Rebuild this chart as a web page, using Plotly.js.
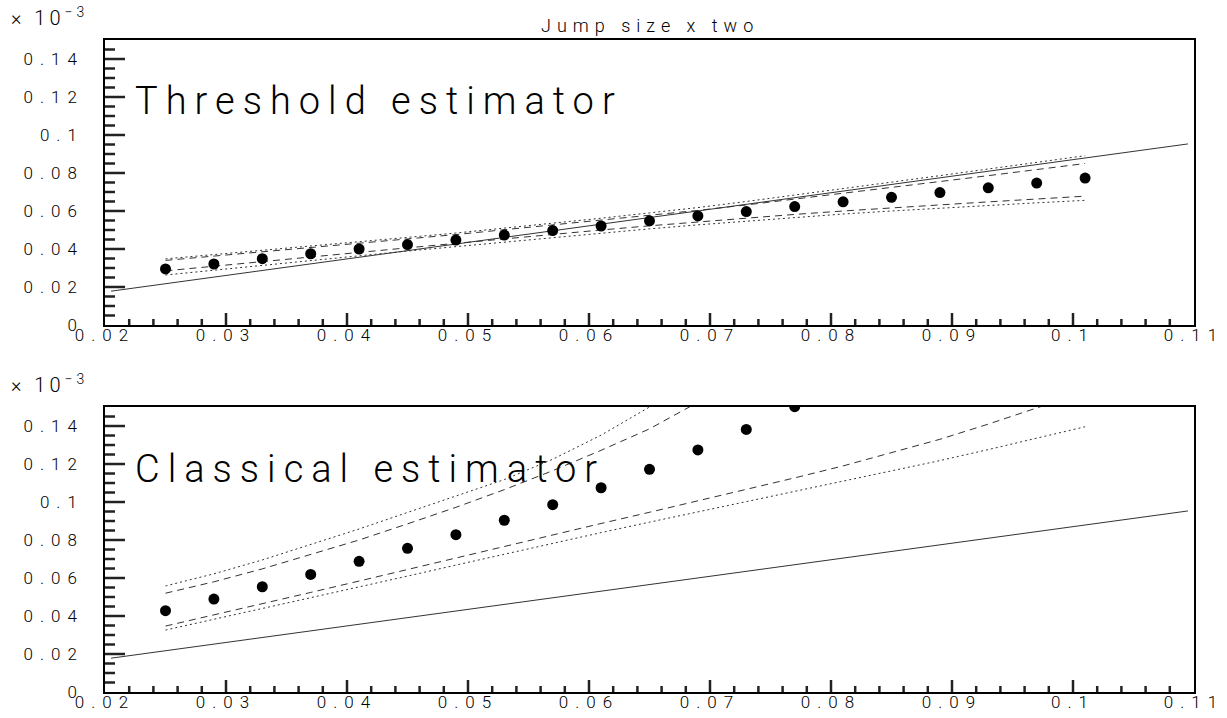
<!DOCTYPE html>
<html>
<head>
<meta charset="utf-8">
<script src="https://cdn.plot.ly/plotly-3.0.1.min.js"></script>
<style>
html,body{margin:0;padding:0;background:#fff;}
#chart{width:1227px;height:718px;}
.xtick text,.ytick text,.x2tick text,.y2tick text{letter-spacing:7px;}
</style>
</head>
<body>
<div id="chart"></div>
<script>
// ---- data (values in units of 10^-3) ----
const xPts = [0.025,0.029,0.033,0.037,0.041,0.045,0.049,0.053,0.057,0.061,0.065,0.069,0.073,0.077,0.081,0.085,0.089,0.093,0.097,0.101];

const trueX = [0.0205, 0.1095];
const trueY = [0.0178, 0.0953];

// Threshold estimator (top panel)
const topDots    = [0.0295,0.0321,0.0349,0.0375,0.0400,0.0423,0.0447,0.0473,0.0497,0.0521,0.0548,0.0574,0.0597,0.0623,0.0648,0.0672,0.0697,0.0722,0.0747,0.0773];
const topUpDot   = [0.0348,0.0370,0.0392,0.0415,0.0438,0.0461,0.0484,0.0509,0.0536,0.0562,0.0590,0.0618,0.0650,0.0683,0.0717,0.0752,0.0786,0.0821,0.0856,0.0891];
const topUpDash  = [0.0340,0.0362,0.0384,0.0407,0.0430,0.0453,0.0476,0.0501,0.0527,0.0553,0.0578,0.0603,0.0632,0.0662,0.0693,0.0725,0.0755,0.0786,0.0818,0.0850];
const topLoDash  = [0.0285,0.0310,0.0334,0.0358,0.0382,0.0406,0.0430,0.0454,0.0477,0.0500,0.0522,0.0543,0.0563,0.0582,0.0600,0.0617,0.0633,0.0648,0.0663,0.0678];
const topLoDot   = [0.0263,0.0289,0.0314,0.0339,0.0364,0.0389,0.0413,0.0437,0.0461,0.0484,0.0506,0.0527,0.0547,0.0566,0.0584,0.0600,0.0615,0.0629,0.0643,0.0656];

// Classical estimator (bottom panel)
const botDots    = [0.0428,0.0489,0.0554,0.0619,0.0688,0.0756,0.0828,0.0904,0.0986,0.1075,0.1172,0.1274,0.1382,0.1502];
const botUpDot   = [0.0558,0.0622,0.0695,0.0775,0.0858,0.0945,0.1030,0.1118,0.1225,0.1352,0.1500,0.1650];
const botUpDash  = [0.0520,0.0580,0.0648,0.0722,0.0800,0.0885,0.0972,0.1065,0.1165,0.1272,0.1385,0.1525,0.1670];
const botLoDash  = [0.0347,0.0405,0.0464,0.0524,0.0584,0.0645,0.0707,0.0768,0.0828,0.0887,0.0946,0.1005,0.1065,0.1127,0.1190,0.1258,0.1330,0.1410,0.1495,0.1580];
const botLoDot   = [0.0326,0.0382,0.0438,0.0495,0.0552,0.0610,0.0668,0.0726,0.0783,0.0839,0.0894,0.0948,0.1002,0.1055,0.1108,0.1162,0.1218,0.1276,0.1335,0.1396];

// ticks
const xTickVals = [0.02,0.03,0.04,0.05,0.06,0.07,0.08,0.09,0.1,0.11];
const xTickText = ['0.02','0.03','0.04','0.05','0.06','0.07','0.08','0.09','0.1','0.11'];
const yTickVals = [0,0.02,0.04,0.06,0.08,0.1,0.12,0.14];
const yTickText = ['0','0.02','0.04','0.06','0.08','0.1','0.12','0.14'];
const xRange = [0.02, 0.11];
const yRange = [0, 0.15];
const xMinorStep = 0.002;
const yMinorStep = 0.005;

const FONT = 'Roboto, Lato, "DejaVu Sans", sans-serif';
const INK = '#000';

const W = 1227, H = 718;
const M = {l: 105, r: 33, t: 40, b: 26};
const topDom = [0.5629, 1];
const botDom = [0, 0.4371];

function line(x, y, dash, xa, ya) {
  return {x: x, y: y, xaxis: xa, yaxis: ya, type: 'scatter', mode: 'lines',
          line: {color: '#333', width: 1, dash: dash}, hoverinfo: 'skip', showlegend: false};
}
function dots(x, y, xa, ya) {
  return {x: x, y: y, xaxis: xa, yaxis: ya, type: 'scatter', mode: 'markers',
          marker: {color: INK, size: 11, line: {width: 0}}, showlegend: false};
}
const DOT = '2px,3px';
const DASH = '7px,5px';

// inside (ROOT-style) tick marks as shapes on each panel's axes
const plotW = W - M.l - M.r;
const plotH = (H - M.t - M.b) * (topDom[1] - topDom[0]);
const xPerPx = (xRange[1] - xRange[0]) / plotW;
const yPerPx = (yRange[1] - yRange[0]) / plotH;
const TICKW = 2.5;
const shapes = [];
[['x', 'y'], ['x2', 'y2']].forEach(function (ax) {
  const nx = Math.round((xRange[1] - xRange[0]) / xMinorStep);
  for (let i = 1; i < nx; i++) {
    const v = xRange[0] + i * xMinorStep;
    const len = (i % 5 === 0 ? 12 : 6) * yPerPx;
    shapes.push({type: 'line', xref: ax[0], yref: ax[1], x0: v, x1: v, y0: yRange[0], y1: yRange[0] + len,
                 line: {color: '#222', width: TICKW}});
  }
  const ny = Math.round((yRange[1] - yRange[0]) / yMinorStep);
  for (let j = 1; j < ny; j++) {
    const v = yRange[0] + j * yMinorStep;
    const len = (j % 4 === 0 ? 20 : 10) * xPerPx;
    shapes.push({type: 'line', xref: ax[0], yref: ax[1], x0: xRange[0], x1: xRange[0] + len, y0: v, y1: v,
                 line: {color: '#222', width: TICKW}});
  }
});

const traces = [
  line(trueX, trueY, 'solid', 'x', 'y'),
  line(xPts, topUpDot, DOT, 'x', 'y'),
  line(xPts, topUpDash, DASH, 'x', 'y'),
  line(xPts, topLoDash, DASH, 'x', 'y'),
  line(xPts, topLoDot, DOT, 'x', 'y'),
  dots(xPts, topDots, 'x', 'y'),

  line(trueX, trueY, 'solid', 'x2', 'y2'),
  line(xPts.slice(0, botUpDot.length), botUpDot, DOT, 'x2', 'y2'),
  line(xPts.slice(0, botUpDash.length), botUpDash, DASH, 'x2', 'y2'),
  line(xPts, botLoDash, DASH, 'x2', 'y2'),
  line(xPts, botLoDot, DOT, 'x2', 'y2'),
  dots(xPts.slice(0, botDots.length), botDots, 'x2', 'y2')
];

const TICKFONT = {family: FONT, size: 17, color: INK, weight: 300};

function xaxis(anchor) {
  return {anchor: anchor, domain: [0, 1], range: xRange,
    tickmode: 'array', tickvals: xTickVals, ticktext: xTickText, ticks: '',
    showline: true, linecolor: INK, linewidth: 1.5, mirror: true, ticklabelstandoff: -6,
    showgrid: false, zeroline: false, tickfont: TICKFONT};
}
function yaxis(anchor, dom) {
  return {anchor: anchor, domain: dom, range: yRange,
    tickmode: 'array', tickvals: yTickVals, ticktext: yTickText, ticks: '',
    showline: true, linecolor: INK, linewidth: 1.5, mirror: true, ticklabelstandoff: 16,
    showgrid: false, zeroline: false, tickfont: TICKFONT};
}

const layout = {
  width: W, height: H,
  margin: M,
  paper_bgcolor: '#fff', plot_bgcolor: 'rgba(0,0,0,0)',
  showlegend: false,
  xaxis: xaxis('y'),
  yaxis: yaxis('x', topDom),
  xaxis2: xaxis('y2'),
  yaxis2: yaxis('x2', botDom),
  shapes: shapes,
  annotations: [
    {xref: 'paper', yref: 'paper', x: 0.5, y: 1.0215, xanchor: 'center', yanchor: 'middle', showarrow: false,
     text: '<span style="letter-spacing:6px">Jump size x two</span>', font: {family: FONT, size: 18, color: INK, weight: 300}},
    {xref: 'paper', yref: 'paper', x: -0.088, y: 1.035, xanchor: 'left', yanchor: 'middle', showarrow: false,
     text: '<span style="letter-spacing:4px">× 10<sup>−3</sup></span>', font: {family: FONT, size: 20, color: INK, weight: 300}},
    {xref: 'paper', yref: 'paper', x: -0.088, y: 0.472, xanchor: 'left', yanchor: 'middle', showarrow: false,
     text: '<span style="letter-spacing:4px">× 10<sup>−3</sup></span>', font: {family: FONT, size: 20, color: INK, weight: 300}},
    {xref: 'paper', yref: 'paper', x: 0.0257, y: 0.906, xanchor: 'left', yanchor: 'middle', showarrow: false,
     text: '<span style="letter-spacing:8px">Threshold estimator</span>', font: {family: FONT, size: 38, color: INK, weight: 300}},
    {xref: 'paper', yref: 'paper', x: 0.0257, y: 0.342, xanchor: 'left', yanchor: 'middle', showarrow: false,
     text: '<span style="letter-spacing:8px">Classical estimator</span>', font: {family: FONT, size: 38, color: INK, weight: 300}}
  ]
};

Plotly.newPlot('chart', traces, layout, {displayModeBar: false});
</script>
</body>
</html>
